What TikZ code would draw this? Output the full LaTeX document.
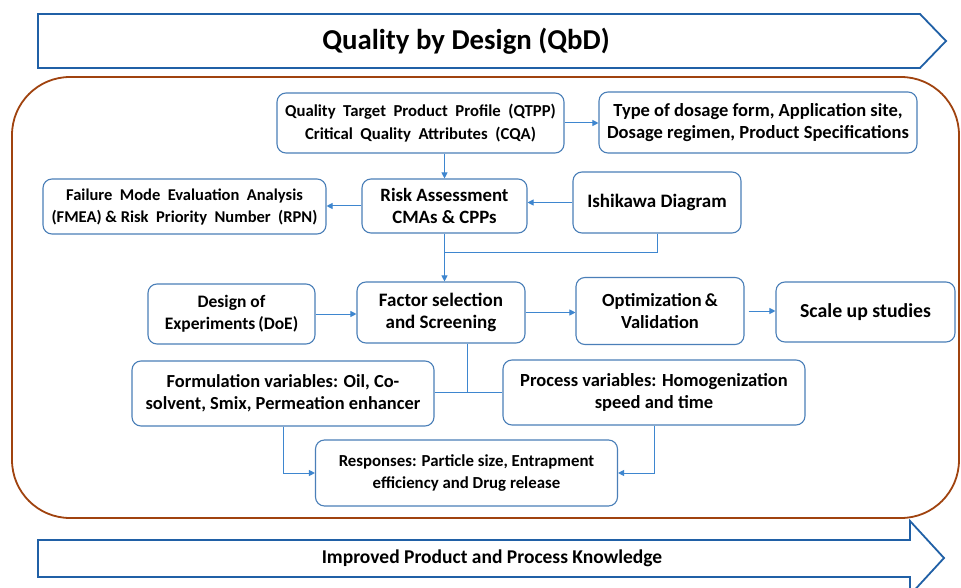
\documentclass[tikz,border=0pt]{standalone}
\usepackage{fontspec}
\setmainfont{Carlito}
\usetikzlibrary{arrows.meta}
\definecolor{framebrown}{HTML}{A0430F}
\definecolor{bandblue}{HTML}{2060A6}
\definecolor{boxblue}{HTML}{4A7FB8}
\definecolor{linkblue}{HTML}{3E86CF}
\tikzset{
  stagebox/.style={draw=boxblue, line width=1.1pt, rounded corners=9pt, fill=white,
    align=center, inner sep=2pt, font=\bfseries\fontsize{18.5}{22}\selectfont},
  link/.style={draw=linkblue, line width=1pt},
  linkarrow/.style={link, -{Triangle[length=6pt,width=6pt]}},
  band/.style={draw=bandblue, line width=1.8pt, fill=white, line join=miter},
}
\begin{document}
\begin{tikzpicture}[x=1pt,y=-1pt]
\useasboundingbox (0,0) rectangle (961,588);
\fill[white] (0,0) rectangle (961,588);

% heading band
\draw[band] (38,14) -- (920,14) -- (946,41) -- (920,68) -- (38,68) -- cycle;
\node[font=\bfseries\fontsize{28.8}{32}\selectfont] (title) at (466,41) {Quality by Design (QbD)};

% outer frame
\draw[draw=framebrown, line width=1.8pt, rounded corners=58pt] (12,77) rectangle (959,518);

% footer band
\draw[band] (38,540) -- (910,540) -- (910,521) -- (944,558) -- (910,595) -- (910,577) -- (38,577) -- cycle;
\node[font=\bfseries\fontsize{19.5}{22}\selectfont] (knowledge) at (492,558) {Improved Product and Process Knowledge};

% stages
\node[stagebox, minimum width=287pt, minimum height=60pt, font=\bfseries\fontsize{16.7}{23}\selectfont] (qtpp) at (420.5,123)
  {Quality\ \ Target\ \ Product\ \ Profile\ \ (QTPP)\\Critical\ \ Quality\ \ Attributes\ \ (CQA)};
\node[stagebox, minimum width=318pt, minimum height=61pt] (dosage) at (758,122.5)
  {Type of dosage form, Application site,\\Dosage regimen, Product Specifications};
\node[stagebox, minimum width=283pt, minimum height=55pt, font=\bfseries\fontsize{16.5}{22}\selectfont] (fmea) at (184.5,206.5)
  {Failure\ \ Mode\ \ Evaluation\ \ Analysis\\(FMEA) \& Risk\ \ Priority\ \ Number\ \ (RPN)};
\node[stagebox, minimum width=165pt, minimum height=54pt, font=\bfseries\fontsize{18.8}{22}\selectfont] (risk) at (444.5,206)
  {Risk Assessment\\CMAs \& CPPs};
\node[stagebox, minimum width=168pt, minimum height=61pt, font=\bfseries\fontsize{19}{22}\selectfont] (ishikawa) at (657,202.5)
  {Ishikawa Diagram};
\node[stagebox, minimum width=167pt, minimum height=60pt, font=\bfseries\fontsize{17.5}{22}\selectfont] (doe) at (231.5,314)
  {Design of\\Experiments\,(DoE)};
\node[stagebox, minimum width=168pt, minimum height=61pt, font=\bfseries\fontsize{19}{22}\selectfont] (factor) at (441,312.5)
  {Factor selection\\and Screening};
\node[stagebox, minimum width=168pt, minimum height=67pt, font=\bfseries\fontsize{18.5}{22}\selectfont] (optim) at (660,311)
  {Optimization\,\&\\Validation};
\node[stagebox, minimum width=179pt, minimum height=60pt, font=\bfseries\fontsize{19.8}{22}\selectfont] (scale) at (865.5,312)
  {Scale up studies};
\node[stagebox, minimum width=302pt, minimum height=65pt, font=\bfseries\fontsize{18.4}{22}\selectfont] (formvar) at (283,393.5)
  {Formulation variables: Oil, Co-\\solvent, Smix, Permeation enhancer};
\node[stagebox, minimum width=302pt, minimum height=65pt] (procvar) at (654,392.5)
  {Process variables: Homogenization\\speed and time};
\node[stagebox, minimum width=302pt, minimum height=66pt, font=\bfseries\fontsize{16.8}{22}\selectfont] (resp) at (466.5,473)
  {Responses: Particle size, Entrapment\\efficiency and Drug release};

% junction points
\coordinate (riskjoin) at (444.5,252);
\coordinate (varjoin) at (467,392);

% connectors
\draw[linkarrow] (qtpp.east) -- (qtpp.east -| dosage.west);
\draw[linkarrow] (risk.north |- qtpp.south) -- (risk.north);
\draw[linkarrow] (ishikawa.west) -- (ishikawa.west -| risk.east);
\draw[linkarrow] (risk.west) -- (risk.west -| fmea.east);
\draw[link] (ishikawa.south) |- (riskjoin);
\draw[linkarrow] (risk.south) -- (risk.south |- factor.north);
\draw[linkarrow] (doe.east) -- (doe.east -| factor.west);
\draw[linkarrow] (factor.east) -- (factor.east -| optim.west);
\draw[linkarrow] ([xshift=4pt]optim.east) -- (optim.east -| scale.west);
\draw[link] (factor.south -| varjoin) -- (varjoin);
\draw[link] (formvar.east |- varjoin) -- (procvar.west |- varjoin);
\draw[linkarrow] (formvar.south) |- (resp.west);
\draw[linkarrow] (procvar.south) |- (resp.east);
\end{tikzpicture}
\end{document}
